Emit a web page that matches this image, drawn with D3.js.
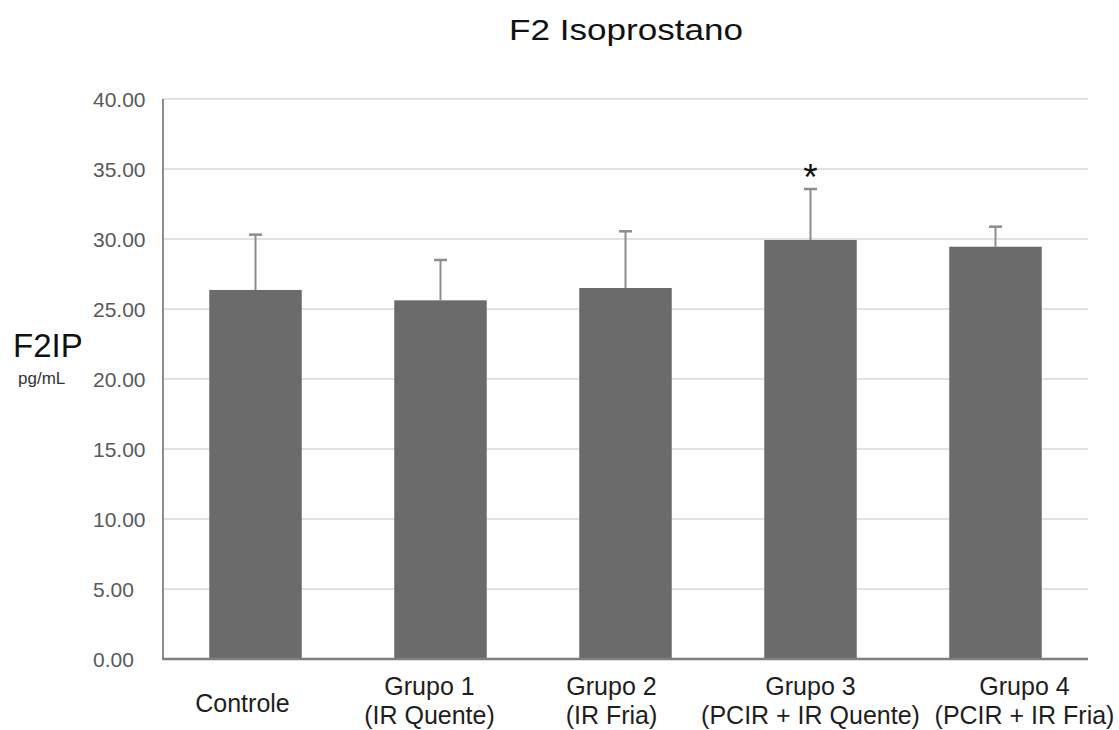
<!DOCTYPE html>
<html>
<head>
<meta charset="utf-8">
<script src="https://cdn.jsdelivr.net/npm/d3@7"></script>
<style>
  html, body { margin: 0; padding: 0; background: #fff; }
  svg { display: block; }
</style>
</head>
<body>
<svg id="chart" width="1119" height="730"></svg>
<script>
// Group names (two lines where needed)
const categories = ["Controle", "Grupo 1", "Grupo 2", "Grupo 3", "Grupo 4"];
const labelLines = [
  ["Controle"],
  ["Grupo 1", "(IR Quente)"],
  ["Grupo 2", "(IR Fria)"],
  ["Grupo 3", "(PCIR + IR Quente)"],
  ["Grupo 4", "(PCIR + IR Fria)"]
];
// Mean F2-isoprostane (pg/mL) and upper error (SD)
const means  = [26.36, 25.62, 26.50, 29.93, 29.45];
const errors = [3.95, 2.88, 4.05, 3.64, 1.43];
// Significance marks per group
const marks  = ["", "", "", "*", ""];
// Y-axis ticks
const yTicks = [0, 5, 10, 15, 20, 25, 30, 35, 40];

// Horizontal nudge of each category label (px)
const labelNudge = [-13, -11, -14, 0, 29];

const svg = d3.select("#chart");
const plotL = 163, plotR = 1088, plotT = 99, plotB = 659;

const x = d3.scaleBand().domain(categories).range([plotL, plotR])
  .paddingInner(0.5).paddingOuter(0.25);
const y = d3.scaleLinear().domain([0, 40]).range([plotB, plotT]);

const data = categories.map((c, i) => ({ c, m: means[i], e: errors[i], mark: marks[i], lines: labelLines[i], nudge: labelNudge[i] }));

// gridlines
svg.append("g").selectAll("line").data(yTicks.filter(t => t > 0)).join("line")
  .attr("x1", plotL).attr("x2", plotR)
  .attr("y1", d => y(d)).attr("y2", d => y(d))
  .attr("stroke", "#d9d9d9").attr("stroke-width", 1.5);

// y tick labels (left-aligned column)
svg.append("g").selectAll("text").data(yTicks).join("text")
  .attr("x", 93).attr("y", d => y(d))
  .attr("dy", "0.36em")
  .attr("font-family", "Liberation Sans, Arial, sans-serif")
  .attr("font-size", 21).attr("fill", "#595959")
  .text(d => d.toFixed(2));

// bars
svg.append("g").selectAll("rect").data(data).join("rect")
  .attr("x", d => x(d.c)).attr("width", x.bandwidth())
  .attr("y", d => y(d.m)).attr("height", d => y(0) - y(d.m))
  .attr("fill", "#6b6b6b");

// error bars
const eb = svg.append("g").attr("stroke", "#8c8c8c");
eb.selectAll("line.stem").data(data).join("line").attr("class", "stem")
  .attr("x1", d => x(d.c) + x.bandwidth() / 2).attr("x2", d => x(d.c) + x.bandwidth() / 2)
  .attr("y1", d => y(d.m)).attr("y2", d => y(d.m + d.e))
  .attr("stroke-width", 2);
eb.selectAll("line.cap").data(data).join("line").attr("class", "cap")
  .attr("x1", d => x(d.c) + x.bandwidth() / 2 - 6.5).attr("x2", d => x(d.c) + x.bandwidth() / 2 + 6.5)
  .attr("y1", d => y(d.m + d.e)).attr("y2", d => y(d.m + d.e))
  .attr("stroke-width", 2.5);

// significance asterisks
svg.append("g").selectAll("text").data(data.filter(d => d.mark)).join("text")
  .attr("x", d => x(d.c) + x.bandwidth() / 2)
  .attr("y", d => y(d.m + d.e) + 1)
  .attr("text-anchor", "middle")
  .attr("font-family", "Liberation Sans, Arial, sans-serif")
  .attr("font-size", 37).attr("fill", "#111")
  .text(d => d.mark);

// axes lines
svg.append("line").attr("x1", plotL).attr("x2", plotL).attr("y1", plotT).attr("y2", plotB)
  .attr("stroke", "#8c8c8c").attr("stroke-width", 2);
svg.append("line").attr("x1", plotL - 1).attr("x2", plotR).attr("y1", plotB).attr("y2", plotB)
  .attr("stroke", "#7f7f7f").attr("stroke-width", 2.5);

// category labels
const lab = svg.append("g").selectAll("text").data(data).join("text")
  .attr("text-anchor", "middle")
  .attr("font-family", "Liberation Sans, Arial, sans-serif")
  .attr("font-size", 25).attr("fill", "#1e1e1e");
lab.each(function (d) {
  const t = d3.select(this);
  const cx = x(d.c) + x.bandwidth() / 2 + d.nudge;
  const y0 = d.lines.length === 1 ? 712 : 695;
  d.lines.forEach((s, k) => {
    t.append("tspan").attr("x", cx).attr("y", y0 + k * 29).text(s);
  });
});

// title
svg.append("text")
  .attr("x", 626).attr("y", 40)
  .attr("text-anchor", "middle")
  .attr("font-family", "Liberation Sans, Arial, sans-serif")
  .attr("font-size", 29).attr("fill", "#111")
  .attr("textLength", 234).attr("lengthAdjust", "spacingAndGlyphs")
  .text("F2 Isoprostano");

// y-axis title
svg.append("text")
  .attr("x", 13).attr("y", 357)
  .attr("font-family", "Liberation Sans, Arial, sans-serif")
  .attr("font-size", 33).attr("fill", "#111")
  .text("F2IP");
svg.append("text")
  .attr("x", 18).attr("y", 384)
  .attr("font-family", "Liberation Sans, Arial, sans-serif")
  .attr("font-size", 17).attr("fill", "#333")
  .text("pg/mL");
</script>
</body>
</html>
